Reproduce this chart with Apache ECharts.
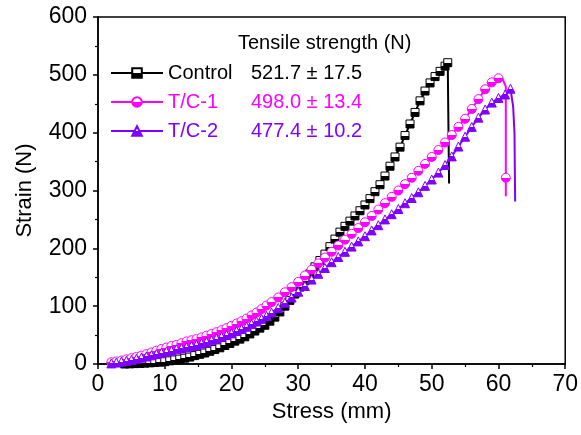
<!DOCTYPE html>
<html>
<head>
<meta charset="utf-8">
<script src="https://cdn.jsdelivr.net/npm/echarts@6/dist/echarts.min.js"></script>
<style>
  html, body { margin: 0; padding: 0; background: #fff; }
  #chart { width: 581px; height: 435px; }
</style>
</head>
<body>
<div id="chart"></div>
<script>
// [stress (mm), strain (N)]
var controlData = [
  [4, 0], [4.75, 0.3], [5.5, 0.7], [6.25, 1], [7, 1.5], [7.75, 2], [8.5, 2.5], [9.25, 3.2],
  [10, 4], [10.75, 5.5], [11.5, 7], [12.25, 8.5], [13, 10], [13.75, 12], [14.5, 14.5],
  [15.25, 16.8], [16, 19], [16.75, 22], [17.5, 25], [18.25, 28], [19, 32], [19.75, 35.5],
  [20.5, 39.5], [21.25, 43], [22, 47], [22.75, 52], [23.5, 57], [24.25, 62], [25, 67],
  [25.75, 74], [26.5, 81], [27.25, 90], [28, 100], [28.75, 110], [29.5, 121], [30.25, 133],
  [31, 144], [31.75, 156], [32.5, 168], [33.25, 179], [34, 190], [34.75, 203], [35.5, 216],
  [36.25, 228], [37, 238], [37.75, 247], [38.5, 256], [39.25, 265], [40, 275], [40.75, 286],
  [41.5, 298], [42.25, 310], [43, 325], [43.75, 342], [44.5, 358], [45.25, 375], [46, 395],
  [46.75, 415], [47.5, 435], [48.25, 455], [49, 472], [49.75, 486], [50.5, 497], [51.25, 506],
  [52, 515], [52.4, 521]
];
var controlTail = [[52.6, 520], [52.6, 312]];

var tc1Data = [
  [2, 3], [2.75, 4.5], [3.5, 6], [4.25, 8], [5, 10], [5.75, 12], [6.5, 14.5], [7.25, 17],
  [8, 20], [8.75, 23], [9.5, 26], [10.25, 28.5], [11, 31], [11.75, 33], [12.5, 36],
  [13.25, 39], [14, 41], [14.75, 43], [15.5, 46], [16.25, 49], [17, 52], [17.75, 55],
  [18.5, 58.5], [19.25, 62], [20, 66], [20.75, 70], [21.5, 74], [22.25, 78.5], [23, 84],
  [23.75, 89], [24.5, 95], [25.25, 101], [26, 107], [27, 115], [28, 124], [29, 133],
  [30, 142], [31, 153], [32, 163], [33, 174], [34, 184], [35, 194], [36, 205], [37, 215],
  [38, 225], [39, 235], [40, 245], [41, 256], [42, 267], [43, 278], [44, 289], [45, 300],
  [46, 311], [47, 322], [48, 334], [49, 346], [50, 358], [51, 370], [52, 383], [53, 396],
  [54, 410], [55, 424], [56, 441], [57, 458], [58, 475], [59, 487], [60, 494]
];
var tc1Tail = [[60.6, 493], [61.1, 480], [61.1, 322], [61.1, 290]];

var tc2Data = [
  [2, 1], [2.75, 2.5], [3.5, 4], [4.25, 5.5], [5, 7], [5.75, 9], [6.5, 11], [7.25, 13],
  [8, 15], [8.75, 17], [9.5, 19.5], [10.25, 21.5], [11, 23], [11.75, 25.5], [12.5, 27],
  [13.25, 29], [14, 31], [14.75, 33], [15.5, 35.5], [16.25, 38], [17, 41], [17.75, 44],
  [18.5, 47], [19.25, 50], [20, 53], [20.75, 57], [21.5, 60.5], [22.25, 64.5], [23, 69],
  [23.75, 73.5], [24.5, 78], [25.25, 83], [26, 89], [27, 97], [28, 106], [29, 115],
  [30, 125], [31, 135], [32, 146], [33, 156], [34, 166], [35, 176], [36, 185], [37, 194],
  [38, 203], [39, 212], [40, 221], [41, 231], [42, 240], [43, 250], [44, 259], [45, 268],
  [46, 278], [47, 287], [48, 297], [49, 308], [50, 319], [51, 331], [52, 344], [53, 359],
  [54, 376], [55, 393], [56, 410], [57, 426], [58, 440], [59, 452], [60, 460], [61, 466],
  [61.8, 476]
];
var tc2Tail = [[62.2, 445], [62.4, 400], [62.5, 281]];

var seriesNames = ['Control', 'T/C-1', 'T/C-2'];
var strengthLabels = ['521.7 ± 17.5', '498.0 ± 13.4', '477.4 ± 10.2'];
var seriesColors = ['#000000', '#ff00ff', '#8000ff'];
var seriesSymbols = ['rect', 'circle', 'triangle'];
var legendTitle = 'Tensile strength (N)';

var font = "'Liberation Sans', Arial, sans-serif";

function halfFill(c) {
  return {
    type: 'linear', x: 0, y: 0, x2: 0, y2: 1,
    colorStops: [
      { offset: 0, color: '#fff' }, { offset: 0.5, color: '#fff' },
      { offset: 0.5, color: c }, { offset: 1, color: c }
    ]
  };
}

// the break at the end of each curve has no markers, except the one T/C-1 shows
function withTail(data, tail, markIdx) {
  var out = data.slice();
  tail.forEach(function (p, i) {
    if (i === markIdx) out.push(p);
    else out.push({ value: p, symbol: 'none' });
  });
  return out;
}

var allData = [
  withTail(controlData, controlTail, -1),
  withTail(tc1Data, tc1Tail, 2),
  withTail(tc2Data, tc2Tail, -1)
];
var symbolSizes = [8, 9, 9];

var series = seriesNames.map(function (name, i) {
  return {
    name: name,
    type: 'line',
    data: allData[i],
    symbol: seriesSymbols[i],
    symbolSize: symbolSizes[i],
    showAllSymbol: true,
    clip: false,
    lineStyle: { color: seriesColors[i], width: 2 },
    itemStyle: { color: halfFill(seriesColors[i]), borderColor: seriesColors[i], borderWidth: 1 },
    emphasis: { disabled: true },
    animation: false
  };
});

var chart = echarts.init(document.getElementById('chart'));
chart.setOption({
  animation: false,
  textStyle: { fontFamily: font },
  grid: { left: 98, right: 12, top: 17, bottom: 71, show: true, borderColor: '#000', borderWidth: 1.5 },
  graphic: [{
    type: 'text', left: 238, top: 33,
    style: { text: legendTitle, font: '20px ' + font, fill: '#000' }
  }],
  legend: {
    orient: 'vertical',
    left: 105,
    top: 58,
    itemWidth: 52,
    itemHeight: 12,
    itemGap: 9,
    selectedMode: false,
    data: seriesNames,
    formatter: function (name) {
      var i = seriesNames.indexOf(name);
      return '{n' + i + '|' + name + '}{v' + i + '|' + strengthLabels[i] + '}';
    },
    textStyle: {
      fontSize: 20,
      fontFamily: font,
      lineHeight: 18,
      rich: {
        n0: { color: seriesColors[0], width: 83, fontSize: 20, fontFamily: font },
        v0: { color: seriesColors[0], fontSize: 20, fontFamily: font },
        n1: { color: seriesColors[1], width: 83, fontSize: 20, fontFamily: font },
        v1: { color: seriesColors[1], fontSize: 20, fontFamily: font },
        n2: { color: seriesColors[2], width: 83, fontSize: 20, fontFamily: font },
        v2: { color: seriesColors[2], fontSize: 20, fontFamily: font }
      }
    }
  },
  xAxis: {
    type: 'value',
    min: 0, max: 70, interval: 10,
    name: 'Stress (mm)',
    nameLocation: 'middle',
    nameGap: 37,
    nameTextStyle: { fontSize: 22, color: '#000', fontFamily: font },
    axisLine: { onZero: false, lineStyle: { color: '#000', width: 1.5 } },
    axisTick: { show: true, length: 5, lineStyle: { color: '#000', width: 1.5 } },
    minorTick: { show: true, splitNumber: 2, length: 3, lineStyle: { color: '#000', width: 1.2 } },
    axisLabel: { fontSize: 23, color: '#000', margin: 9, fontFamily: font },
    splitLine: { show: false }
  },
  yAxis: {
    type: 'value',
    min: 0, max: 600, interval: 100,
    name: 'Strain (N)',
    nameLocation: 'middle',
    nameGap: 62,
    nameTextStyle: { fontSize: 22, color: '#000', fontFamily: font },
    axisLine: { onZero: false, lineStyle: { color: '#000', width: 1.5 } },
    axisTick: { show: true, length: 5, lineStyle: { color: '#000', width: 1.5 } },
    minorTick: { show: true, splitNumber: 2, length: 3, lineStyle: { color: '#000', width: 1.2 } },
    axisLabel: { fontSize: 23, color: '#000', margin: 11, fontFamily: font },
    splitLine: { show: false }
  },
  series: series
});
</script>
</body>
</html>
